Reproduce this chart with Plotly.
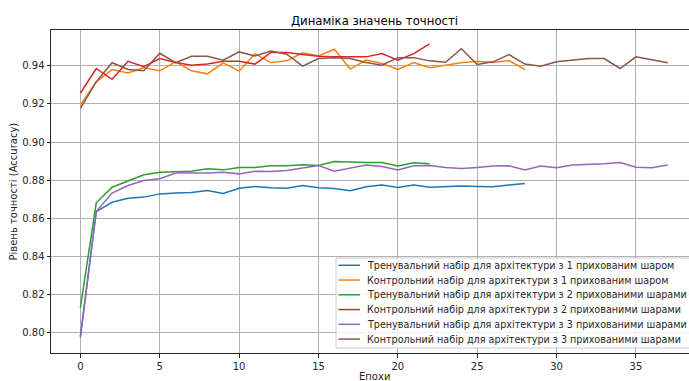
import plotly.graph_objects as go

train_1 = [0.798, 0.8635, 0.8684, 0.8705, 0.8711, 0.8728, 0.8732, 0.8735, 0.8746, 0.8730,
           0.8758, 0.8767, 0.8760, 0.8758, 0.8772, 0.8760, 0.8756, 0.8744, 0.8765, 0.8775,
           0.8761, 0.8774, 0.8763, 0.8765, 0.8770, 0.8767, 0.8765, 0.8774, 0.8782]
val_1 = [0.9195, 0.9316, 0.9381, 0.9363, 0.9390, 0.9374, 0.9421, 0.9374, 0.9358, 0.9416,
         0.9372, 0.9464, 0.9417, 0.9426, 0.9468, 0.9452, 0.9487, 0.9383, 0.9430, 0.9412,
         0.9381, 0.9417, 0.9390, 0.9403, 0.9416, 0.9424, 0.9417, 0.9428, 0.9381]
train_2 = [0.8131, 0.8681, 0.8763, 0.8795, 0.8828, 0.8842, 0.8846, 0.8847, 0.8860, 0.8854,
           0.8867, 0.8867, 0.8875, 0.8875, 0.8881, 0.8877, 0.8898, 0.8895, 0.8893, 0.8893,
           0.8874, 0.8891, 0.8886]
val_2 = [0.9256, 0.9386, 0.9329, 0.9424, 0.9395, 0.9438, 0.9417, 0.9403, 0.9410, 0.9424,
         0.9424, 0.9409, 0.9470, 0.9470, 0.9459, 0.9450, 0.9447, 0.9447, 0.9447, 0.9464,
         0.9430, 0.9464, 0.9515]
train_3 = [0.7974, 0.8635, 0.8732, 0.8772, 0.8798, 0.8807, 0.8837, 0.8837, 0.8837, 0.8842,
           0.8833, 0.8847, 0.8846, 0.8851, 0.8863, 0.8877, 0.8847, 0.8865, 0.8879, 0.8872,
           0.8854, 0.8875, 0.8877, 0.8867, 0.8861, 0.8867, 0.8874, 0.8875, 0.8854, 0.8874,
           0.8865, 0.8879, 0.8882, 0.8886, 0.8893, 0.8868, 0.8865, 0.8879]
val_3 = [0.9177, 0.9316, 0.9416, 0.9381, 0.9374, 0.9466, 0.9417, 0.9450, 0.9450, 0.9430,
         0.9473, 0.9452, 0.9478, 0.9461, 0.9398, 0.9438, 0.9443, 0.9438, 0.9417, 0.9403,
         0.9443, 0.9443, 0.9426, 0.9419, 0.9490, 0.9407, 0.9421, 0.9459, 0.9409, 0.9398,
         0.9421, 0.9431, 0.9438, 0.9438, 0.9386, 0.9447, 0.9430, 0.9416]

names = [
    "Тренувальний набір для архітектури з 1 прихованим шаром",
    "Контрольний набір для архітектури з 1 прихованим шаром",
    "Тренувальний набір для архітектури з 2 прихованими шарами",
    "Контрольний набір для архітектури з 2 прихованими шарами",
    "Тренувальний набір для архітектури з 3 прихованими шарами",
    "Контрольний набір для архітектури з 3 прихованими шарами",
]
series = [train_1, val_1, train_2, val_2, train_3, val_3]
colors = ["#1f77b4", "#ff7f0e", "#2ca02c", "#d62728", "#9467bd", "#8c564b"]

x_ticks = [0, 5, 10, 15, 20, 25, 30, 35]
y_ticks = [0.80, 0.82, 0.84, 0.86, 0.88, 0.90, 0.92, 0.94]

FONT = "DejaVu Sans"
TXT = "#262626"
W, H = 689, 381
L, T, B = 51, 30, 28
PW, PH = W - L, H - T - B


def px(xp):
    return (xp - L) / PW


def py(yp):
    return (H - B - yp) / PH


fig = go.Figure()
for name, ys, c in zip(names, series, colors):
    fig.add_trace(go.Scatter(x=list(range(len(ys))), y=ys, mode="lines", name=name,
                             line=dict(color=c, width=1.5), showlegend=False))

# legend (drawn as box + samples + labels to match compact matplotlib spacing)
shapes = [dict(type="rect", xref="paper", yref="paper", x0=px(336), x1=px(720), y0=py(348), y1=py(258),
               fillcolor="rgba(255,255,255,0.8)", line=dict(color="#cccccc", width=1), layer="above")]
annotations = []
for i, (name, c) in enumerate(zip(names, colors)):
    yy = 265.3 + i * 14.75
    shapes.append(dict(type="line", xref="paper", yref="paper", x0=px(338.5), x1=px(360), y0=py(yy), y1=py(yy),
                       line=dict(color=c, width=1.5), layer="above"))
    annotations.append(dict(text=name, xref="paper", yref="paper", x=px(365.5), y=py(yy), xanchor="left",
                            yanchor="middle", showarrow=False, borderpad=0,
                            font=dict(family=FONT, size=9.6, color=TXT)))

annotations.append(dict(text="Епохи", xref="paper", yref="paper", x=px(374), y=py(376.5), xanchor="center",
                        yanchor="middle", showarrow=False, font=dict(family=FONT, size=10, color=TXT)))
annotations.append(dict(text="Рівень точності (Accuracy)", xref="paper", yref="paper", x=px(13), y=py(191.5),
                        xanchor="center", yanchor="middle", textangle=-90, showarrow=False,
                        font=dict(family=FONT, size=10, color=TXT)))

fig.update_layout(
    width=W, height=H,
    margin=dict(l=L, r=0, t=T, b=B, autoexpand=False),
    paper_bgcolor="white", plot_bgcolor="white",
    font=dict(family=FONT, size=10, color=TXT),
    title=dict(text="Динаміка значень точності", font=dict(family=FONT, size=11.7, color="black"),
               x=374.5 / W, xanchor="center", xref="container", y=1 - 21 / H, yanchor="middle",
               yref="container"),
    showlegend=False,
    shapes=shapes,
    annotations=annotations,
)
fig.update_xaxes(range=[-1.85, 38.34], tickvals=x_ticks, showgrid=True, gridcolor="#b0b0b0", gridwidth=0.8,
                 showline=True, linecolor=TXT, linewidth=1, mirror=True, ticks="outside",
                 ticklen=3.5, tickcolor=TXT, zeroline=False)
fig.update_yaxes(range=[0.7893, 0.9588], tickvals=y_ticks, tickformat=".2f", showgrid=True,
                 gridcolor="#b0b0b0", gridwidth=0.8, showline=True, linecolor=TXT, linewidth=1,
                 mirror=False, ticks="outside", ticklen=3.5, tickcolor=TXT, zeroline=False)

fig.write_html("out.html")
